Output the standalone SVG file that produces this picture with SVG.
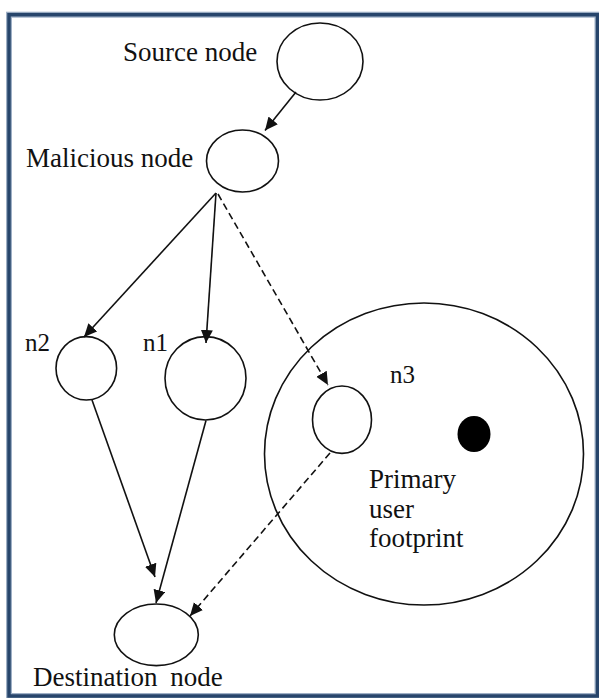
<svg xmlns="http://www.w3.org/2000/svg" width="599" height="698" viewBox="0 0 599 698">
  <style>
    .node { fill: #ffffff; stroke: #111111; stroke-width: 1.6; }
    .label { font-size: 27px; fill: #111111; }
    .small { font-size: 25px; }
    .edge { fill: none; stroke: #111111; stroke-width: 1.6; }
    .dashed { stroke-dasharray: 7 4; }
  </style>
  <defs>
    <marker id="arrow" markerUnits="userSpaceOnUse" markerWidth="14" markerHeight="13" refX="13" refY="6" orient="auto">
      <path d="M0,0 L13,6 L0,12 z" fill="#111111"/>
    </marker>
  </defs>

  <rect width="599" height="698" fill="#ffffff"/>

  <!-- page frame -->
  <rect x="9" y="14.7" width="588.5" height="681.3" fill="none" stroke="#9fb0c6" stroke-width="6"/>
  <rect x="9" y="14.7" width="588.5" height="681.3" fill="none" stroke="#27456b" stroke-width="3.5"/>

  <g font-family="'Liberation Serif', 'DejaVu Serif', serif">
    <!-- primary user footprint area -->
    <g id="footprint">
      <ellipse cx="424" cy="454" rx="159.5" ry="151" class="node" fill="none"/>
      <ellipse cx="474" cy="434" rx="16.5" ry="18" fill="#000000"/>
      <text class="label" x="369" y="488">Primary</text>
      <text class="label" x="369" y="518">user</text>
      <text class="label" x="369" y="547">footprint</text>
    </g>

    <g id="source">
      <ellipse cx="320" cy="61.5" rx="43" ry="38.5" class="node"/>
      <text class="label" x="123" y="61">Source node</text>
    </g>

    <g id="malicious">
      <ellipse cx="242.5" cy="161" rx="36" ry="31" class="node"/>
      <text class="label" x="26" y="167">Malicious node</text>
    </g>

    <g id="n2">
      <ellipse cx="86.3" cy="368.3" rx="30.3" ry="31.7" class="node"/>
      <text class="label small" x="25" y="351">n2</text>
    </g>

    <g id="n1">
      <ellipse cx="205.5" cy="378.3" rx="40.5" ry="41.7" class="node"/>
      <text class="label small" x="143" y="351">n1</text>
    </g>

    <g id="n3">
      <ellipse cx="342" cy="419.7" rx="29.5" ry="33.7" class="node"/>
      <text class="label small" x="390" y="383">n3</text>
    </g>

    <g id="destination">
      <ellipse cx="156.3" cy="634.8" rx="42" ry="30.8" class="node"/>
      <text class="label" x="33" y="686" word-spacing="6">Destination node</text>
    </g>
  </g>

  <g id="connectors">
    <line class="edge" x1="296" y1="92" x2="265" y2="130.5" marker-end="url(#arrow)"/>
    <line class="edge" x1="216" y1="193" x2="84" y2="337" marker-end="url(#arrow)"/>
    <line class="edge" x1="216" y1="193" x2="206" y2="343" marker-end="url(#arrow)"/>
    <line class="edge dashed" x1="218" y1="194" x2="328" y2="385" marker-end="url(#arrow)"/>
    <line class="edge" x1="92" y1="400" x2="155" y2="577" marker-end="url(#arrow)"/>
    <line class="edge" x1="206" y1="420.5" x2="156" y2="603" marker-end="url(#arrow)"/>
    <line class="edge dashed" x1="330" y1="453" x2="190" y2="616" marker-end="url(#arrow)"/>
  </g>
</svg>
